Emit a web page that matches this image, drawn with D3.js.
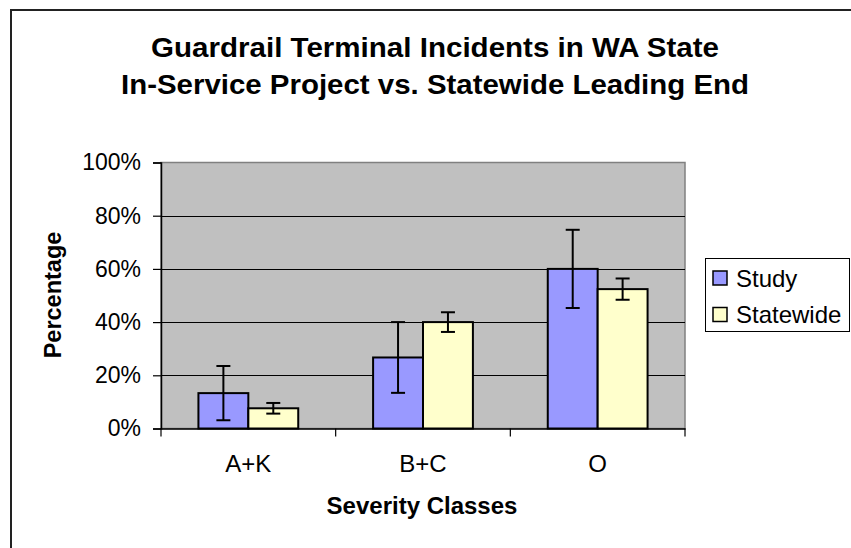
<!DOCTYPE html>
<html>
<head>
<meta charset="utf-8">
<script src="https://cdn.jsdelivr.net/npm/d3@7"></script>
<style>
  body { margin: 0; background: #fff; }
  svg { font-family: "Liberation Sans", Arial, sans-serif; }
</style>
</head>
<body>
<svg width="851" height="548"></svg>
<script>
(function (d3) {
  'use strict';

  // data
  const categories = ['A+K', 'B+C', 'O'];
  const seriesNames = ['Study', 'Statewide'];
  const studyValues = [13.3, 26.7, 60.0];
  const studyErrors = [10.2, 13.3, 14.7];
  const statewideValues = [7.6, 40.0, 52.4];
  const statewideErrors = [2.0, 3.7, 4.0];
  const yTicks = [0, 20, 40, 60, 80, 100];
  const colors = ['#9999ff', '#ffffcc'];

  const svg = d3.select('svg');

  // outer chart border
  svg.append('rect')
    .attr('x', 11).attr('y', 10)
    .attr('width', 860).attr('height', 560)
    .attr('fill', 'none').attr('stroke', '#222').attr('stroke-width', 2);

  const plot = { left: 161, top: 162.5, right: 685, bottom: 428.5 };

  const x = d3.scaleBand()
    .domain(categories)
    .range([plot.left, plot.right])
    .paddingInner(0)
    .paddingOuter(0);

  const y = d3.scaleLinear()
    .domain([0, 100])
    .range([plot.bottom, plot.top]);

  const groupWidth = x.bandwidth() / 1.75;
  const xs = d3.scaleBand()
    .domain(seriesNames)
    .range([0, groupWidth]);

  // plot background
  svg.append('rect')
    .attr('x', plot.left).attr('y', plot.top)
    .attr('width', plot.right - plot.left).attr('height', plot.bottom - plot.top)
    .attr('fill', '#c0c0c0')
    .attr('stroke', '#808080').attr('stroke-width', 1.5);

  // gridlines
  svg.append('g')
    .selectAll('line')
    .data(yTicks.filter(t => t > 0 && t < 100))
    .enter()
    .append('line')
    .attr('x1', plot.left).attr('x2', plot.right)
    .attr('y1', d => Math.round(y(d)) + 0.5).attr('y2', d => Math.round(y(d)) + 0.5)
    .attr('stroke', '#000').attr('stroke-width', 1);

  const series = [
    { name: 'Study', values: studyValues, errors: studyErrors, color: colors[0] },
    { name: 'Statewide', values: statewideValues, errors: statewideErrors, color: colors[1] }
  ];

  // bars
  const bars = svg.append('g');
  series.forEach(s => {
    categories.forEach((c, i) => {
      const x0 = x(c) + (x.bandwidth() - groupWidth) / 2 + xs(s.name);
      bars.append('rect')
        .attr('x', x0)
        .attr('y', y(s.values[i]))
        .attr('width', xs.bandwidth())
        .attr('height', y(0) - y(s.values[i]))
        .attr('fill', s.color)
        .attr('stroke', '#000').attr('stroke-width', 2);
    });
  });

  // error bars
  const err = svg.append('g').attr('stroke', '#000').attr('stroke-width', 2);
  series.forEach(s => {
    categories.forEach((c, i) => {
      const cx = x(c) + (x.bandwidth() - groupWidth) / 2 + xs(s.name) + xs.bandwidth() / 2;
      const hi = y(s.values[i] + s.errors[i]);
      const lo = y(s.values[i] - s.errors[i]);
      err.append('line').attr('x1', cx).attr('x2', cx).attr('y1', hi).attr('y2', lo);
      err.append('line').attr('x1', cx - 7).attr('x2', cx + 7).attr('y1', hi).attr('y2', hi);
      err.append('line').attr('x1', cx - 7).attr('x2', cx + 7).attr('y1', lo).attr('y2', lo);
    });
  });

  // y axis
  const yAxis = svg.append('g')
    .attr('transform', `translate(${plot.left},0)`)
    .call(d3.axisLeft(y).tickValues(yTicks).tickFormat(d => d + '%').tickSize(8).tickPadding(12));
  yAxis.select('.domain').attr('stroke', '#000').attr('stroke-width', 1.5);
  yAxis.selectAll('.tick line').attr('stroke', '#000').attr('stroke-width', 1.2);
  yAxis.selectAll('text')
    .attr('font-size', 23).attr('fill', '#000')
    .attr('font-family', '"Liberation Sans", Arial, sans-serif');

  // x axis
  const xAxis = svg.append('g')
    .attr('transform', `translate(0,${plot.bottom})`)
    .call(d3.axisBottom(x).tickSize(0).tickPadding(26));
  xAxis.select('.domain').attr('stroke', '#000').attr('stroke-width', 1.5);
  xAxis.selectAll('text')
    .attr('font-size', 24).attr('fill', '#000')
    .attr('font-family', '"Liberation Sans", Arial, sans-serif');

  // category boundary ticks
  const bounds = categories.map(c => x(c)).concat([x(categories[categories.length - 1]) + x.bandwidth()]);
  svg.append('g')
    .selectAll('line')
    .data(bounds)
    .enter()
    .append('line')
    .attr('x1', d => d).attr('x2', d => d)
    .attr('y1', plot.bottom).attr('y2', plot.bottom + 8)
    .attr('stroke', '#000').attr('stroke-width', 1.2);

  // title
  const title = svg.append('text')
    .attr('text-anchor', 'middle')
    .attr('font-size', 27).attr('font-weight', 'bold');
  title.append('tspan').attr('x', 435).attr('y', 57)
    .attr('textLength', 568).attr('lengthAdjust', 'spacingAndGlyphs')
    .text('Guardrail Terminal Incidents in WA State');
  title.append('tspan').attr('x', 435).attr('y', 94)
    .attr('textLength', 628).attr('lengthAdjust', 'spacingAndGlyphs')
    .text('In-Service Project vs. Statewide Leading End');

  // axis titles
  svg.append('text')
    .attr('x', 422).attr('y', 514)
    .attr('text-anchor', 'middle')
    .attr('font-size', 24).attr('font-weight', 'bold')
    .text('Severity Classes');

  svg.append('text')
    .attr('transform', 'translate(61,295) rotate(-90)')
    .attr('text-anchor', 'middle')
    .attr('font-size', 23.5).attr('font-weight', 'bold')
    .text('Percentage');

  // legend
  const legend = svg.append('g');
  legend.append('rect')
    .attr('x', 705.5).attr('y', 258.5)
    .attr('width', 144).attr('height', 73)
    .attr('fill', '#fff').attr('stroke', '#000').attr('stroke-width', 1);

  const legendItems = legend.selectAll('g')
    .data(series)
    .enter()
    .append('g')
    .attr('transform', (d, i) => `translate(713,${271 + i * 36.5})`);
  legendItems.append('rect')
    .attr('width', 14).attr('height', 14)
    .attr('fill', d => d.color)
    .attr('stroke', '#000').attr('stroke-width', 1.5);
  legendItems.append('text')
    .attr('x', 23).attr('y', 15.5)
    .attr('font-size', 24)
    .text(d => d.name);

}(d3));
</script>
</body>
</html>
